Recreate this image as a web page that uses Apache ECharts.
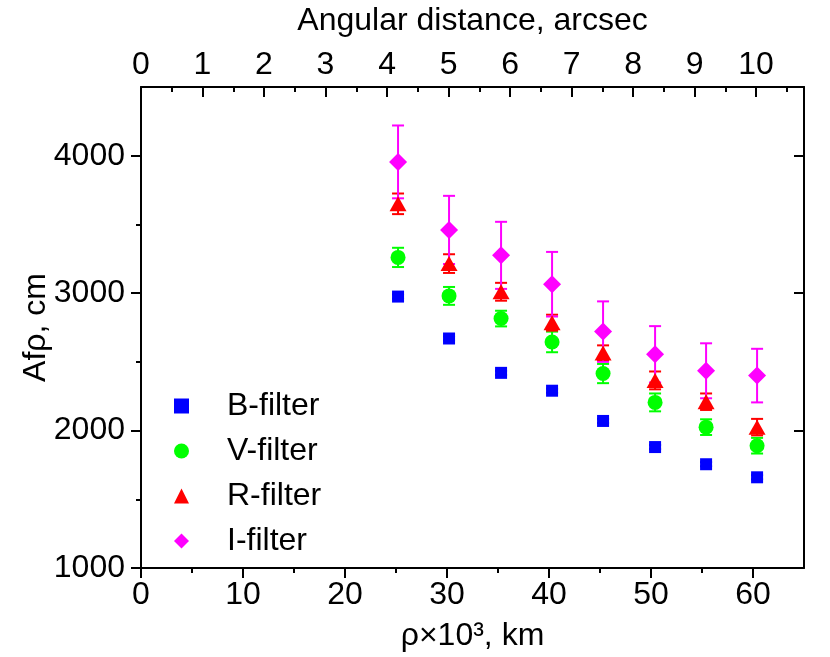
<!DOCTYPE html>
<html>
<head>
<meta charset="utf-8">
<script src="https://cdn.jsdelivr.net/npm/echarts@6/dist/echarts.min.js"></script>
<style>
html, body { margin: 0; padding: 0; background: #fff; }
#chart { width: 830px; height: 657px; }
</style>
</head>
<body>
<div id="chart"></div>
<script>
// ρ in 10^3 km
const rho = [25.2, 30.2, 35.3, 40.3, 45.3, 50.4, 55.4, 60.4]
const filterNames = ["B-filter", "V-filter", "R-filter", "I-filter"]
// Afρ, cm and its errors
const valB = [2975, 2670, 2420, 2290, 2070, 1880, 1755, 1660]
const errB = [15, 15, 15, 15, 15, 15, 15, 15]
const valV = [3260, 2980, 2815, 2645, 2415, 2205, 2025, 1890]
const errV = [70, 65, 57, 75, 70, 65, 57, 57]
const valR = [3650, 3215, 3010, 2785, 2565, 2365, 2210, 2025]
const errR = [75, 68, 65, 58, 55, 65, 60, 60]
const valI = [3955, 3460, 3275, 3065, 2720, 2555, 2435, 2400]
const errI = [265, 248, 244, 235, 220, 205, 200, 195]

// tick labels
const xTicks = [0, 10, 20, 30, 40, 50, 60]
const xMinorTicks = [5, 15, 25, 35, 45, 55]
const topTicks = [0, 1, 2, 3, 4, 5, 6, 7, 8, 9, 10]
const topMinorTicks = [0.5, 1.5, 2.5, 3.5, 4.5, 5.5, 6.5, 7.5, 8.5, 9.5, 10.5]
const yTicks = [1000, 2000, 3000, 4000]
const yMinorTicks = [1500, 2500, 3500]
const kmPerArcsec = 6.03

const FONT = '"Liberation Sans Narrow", "Liberation Sans", Arial, sans-serif'
const FS = 32

function errorBars(color) {
    return function (params, api) {
        const x = api.value(0)
        const lo = api.coord([x, api.value(1)])
        const hi = api.coord([x, api.value(2)])
        const w = 6
        const style = { stroke: color, lineWidth: 2 }
        return {
            type: "group",
            children: [
                { type: "line", shape: { x1: lo[0], y1: lo[1], x2: hi[0], y2: hi[1] }, style },
                { type: "line", shape: { x1: lo[0] - w, y1: lo[1], x2: lo[0] + w, y2: lo[1] }, style },
                { type: "line", shape: { x1: hi[0] - w, y1: hi[1], x2: hi[0] + w, y2: hi[1] }, style },
            ],
        }
    }
}

function makeSeries(name, vals, errs, color, symbol, size) {
    return [
        {
            type: "custom",
            name: name + "-err",
            renderItem: errorBars(color),
            encode: { x: 0, y: [1, 2] },
            data: rho.map((x, i) => [x, vals[i] - errs[i], vals[i] + errs[i]]),
            silent: true,
        },
        {
            type: "scatter",
            name: name,
            symbol: symbol,
            symbolSize: size,
            itemStyle: { color: color, opacity: 1 },
            data: rho.map((x, i) => [x, vals[i]]),
        },
    ]
}

function mainAxis(pos, extra) {
    return Object.assign({
        type: "value",
        position: pos,
        splitLine: { show: false },
        axisLine: { show: true, onZero: false, lineStyle: { color: "#000", width: 2 } },
        axisTick: { show: true, length: 10, lineStyle: { color: "#000", width: 2 } },
        axisLabel: { color: "#000", fontFamily: FONT, fontSize: FS },
    }, extra)
}

const chart = echarts.init(document.getElementById("chart"))
chart.setOption({
    backgroundColor: "#fff",
    animation: false,
    textStyle: { fontFamily: FONT },
    grid: { left: 141, right: 26, top: 81, bottom: 88, containLabel: false },
    legend: {
        orient: "vertical",
        left: 169,
        top: 385,
        itemWidth: 15,
        itemHeight: 15,
        itemGap: 13,
        data: filterNames,
        textStyle: { color: "#000", fontFamily: FONT, fontSize: FS, padding: [0, 0, 0, 33] },
    },
    xAxis: [
        mainAxis("bottom", {
            min: 0, max: 65,
            axisTick: { show: true, inside: false, length: 10, customValues: xTicks, lineStyle: { color: "#000", width: 2 } },
            axisLabel: { color: "#000", fontFamily: FONT, fontSize: FS, margin: 11, customValues: xTicks },
            name: "ρ×10³, km",
            nameLocation: "middle",
            nameGap: 52,
            nameMoveOverlap: false,
            nameTextStyle: { color: "#000", fontFamily: FONT, fontSize: FS },
        }),
        mainAxis("bottom", {
            min: 0, max: 65,
            axisLine: { show: false },
            axisTick: { show: true, inside: false, length: 5, customValues: xMinorTicks, lineStyle: { color: "#000", width: 2 } },
            axisLabel: { show: false },
        }),
        mainAxis("top", {
            min: 0, max: 65 / kmPerArcsec,
            axisTick: { show: true, inside: true, length: 10, customValues: topTicks, lineStyle: { color: "#000", width: 2 } },
            axisLabel: { color: "#000", fontFamily: FONT, fontSize: FS, margin: 6, customValues: topTicks },
            name: "Angular distance, arcsec",
            nameLocation: "middle",
            nameGap: 50,
            nameMoveOverlap: false,
            nameTextStyle: { color: "#000", fontFamily: FONT, fontSize: FS },
        }),
        mainAxis("top", {
            min: 0, max: 65 / kmPerArcsec,
            axisLine: { show: false },
            axisTick: { show: true, inside: true, length: 5, customValues: topMinorTicks, lineStyle: { color: "#000", width: 2 } },
            axisLabel: { show: false },
        }),
    ],
    yAxis: [
        mainAxis("left", {
            min: 1000, max: 4500,
            axisTick: { show: true, inside: false, length: 10, customValues: yTicks, lineStyle: { color: "#000", width: 2 } },
            axisLabel: {
                color: "#000", fontFamily: FONT, fontSize: FS, margin: 16, customValues: yTicks,
                formatter: v => String(v),
            },
            name: "Afρ, cm",
            nameLocation: "middle",
            nameGap: 89,
            nameRotate: 90,
            nameMoveOverlap: false,
            nameTextStyle: { color: "#000", fontFamily: FONT, fontSize: FS },
        }),
        mainAxis("left", {
            min: 1000, max: 4500,
            axisLine: { show: false },
            axisTick: { show: true, inside: false, length: 5, customValues: yMinorTicks, lineStyle: { color: "#000", width: 2 } },
            axisLabel: { show: false },
        }),
        mainAxis("right", {
            min: 1000, max: 4500,
            axisTick: { show: true, inside: true, length: 10, customValues: yTicks, lineStyle: { color: "#000", width: 2 } },
            axisLabel: { show: false },
        }),
        mainAxis("right", {
            min: 1000, max: 4500,
            axisLine: { show: false },
            axisTick: { show: true, inside: true, length: 5, customValues: yMinorTicks, lineStyle: { color: "#000", width: 2 } },
            axisLabel: { show: false },
        }),
    ],
    series: [
        ...makeSeries(filterNames[0], valB, errB, "#0000ff", "rect", 12),
        ...makeSeries(filterNames[1], valV, errV, "#00ff00", "circle", 15),
        ...makeSeries(filterNames[2], valR, errR, "#ff0000", "triangle", [17, 15]),
        ...makeSeries(filterNames[3], valI, errI, "#ff00ff", "diamond", 18),
    ],
})
window.addEventListener("resize", function () {
    chart.resize()
})
</script>
</body>
</html>
